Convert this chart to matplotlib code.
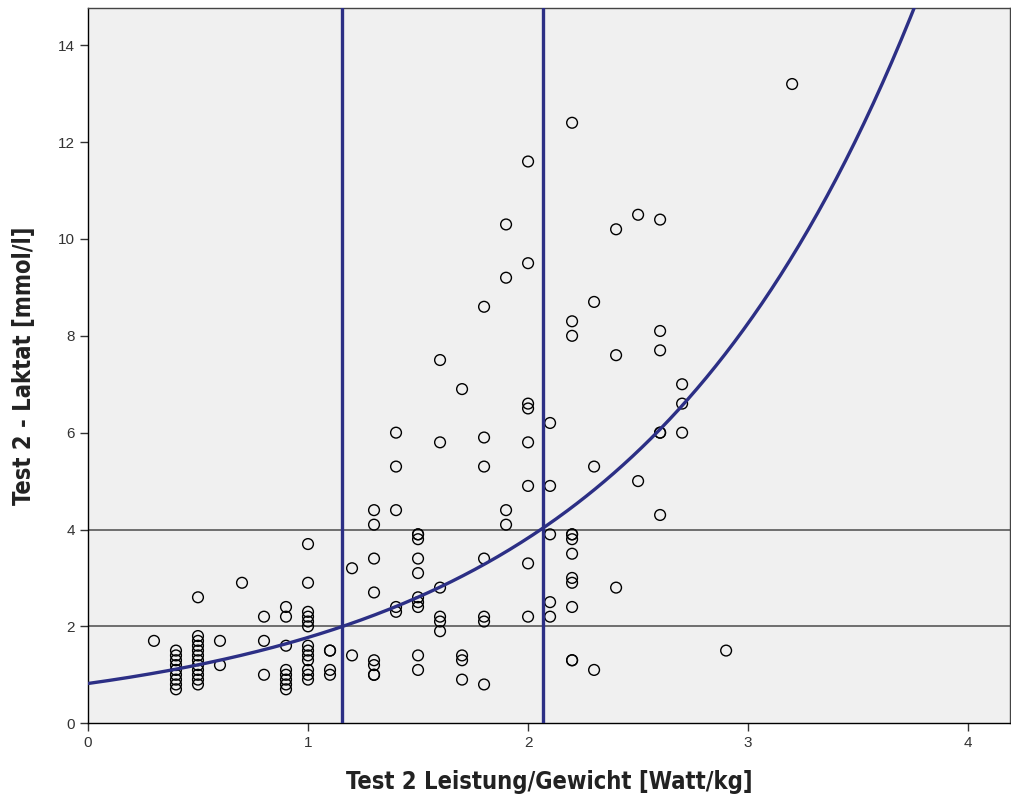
import matplotlib
matplotlib.use("Agg")
import matplotlib.pyplot as plt
import numpy as np

x_vals = ([0.3]
          + [0.4] * 9
          + [0.5] * 12
          + [0.6] * 2
          + [0.7]
          + [0.8] * 3
          + [0.9] * 8
          + [1.0] * 13
          + [1.1] * 4
          + [1.2] * 2
          + [1.3] * 8
          + [1.4] * 5
          + [1.5] * 10
          + [1.6] * 6
          + [1.7] * 4
          + [1.8] * 7
          + [1.9] * 4
          + [2.0] * 8
          + [2.1] * 5
          + [2.2] * 12
          + [2.3] * 3
          + [2.4] * 3
          + [2.5] * 2
          + [2.6] * 6
          + [2.7] * 3
          + [2.9]
          + [3.2])
y_vals = ([1.7]
          + [1.5, 1.4, 1.3, 1.2, 1.1, 1.0, 0.9, 0.8, 0.7]
          + [2.6, 1.8, 1.7, 1.6, 1.5, 1.4, 1.3, 1.2, 1.1, 1.0, 0.9, 0.8]
          + [1.7, 1.2]
          + [2.9]
          + [2.2, 1.7, 1.0]
          + [2.4, 2.2, 1.6, 1.1, 1.0, 0.9, 0.8, 0.7]
          + [3.7, 2.9, 2.3, 2.2, 2.1, 2.0, 1.6, 1.5, 1.4, 1.3, 1.1, 1.0, 0.9]
          + [1.5, 1.5, 1.1, 1.0]
          + [3.2, 1.4]
          + [4.4, 4.1, 3.4, 2.7, 1.3, 1.2, 1.0, 1.0]
          + [6.0, 5.3, 4.4, 2.4, 2.3]
          + [3.9, 3.9, 3.8, 3.4, 3.1, 2.6, 2.5, 2.4, 1.4, 1.1]
          + [7.5, 5.8, 2.8, 2.2, 2.1, 1.9]
          + [6.9, 1.4, 1.3, 0.9]
          + [8.6, 5.9, 5.3, 3.4, 2.2, 2.1, 0.8]
          + [10.3, 9.2, 4.4, 4.1]
          + [11.6, 9.5, 6.6, 6.5, 5.8, 4.9, 3.3, 2.2]
          + [6.2, 4.9, 3.9, 2.5, 2.2]
          + [12.4, 8.3, 8.0, 3.9, 3.8, 3.5, 3.0, 2.9, 2.4, 1.3, 1.3, 3.9]
          + [8.7, 5.3, 1.1]
          + [10.2, 7.6, 2.8]
          + [10.5, 5.0]
          + [10.4, 8.1, 7.7, 6.0, 4.3, 6.0]
          + [7.0, 6.6, 6.0]
          + [1.5]
          + [13.2])

# exponentielle Anpassung y = a * exp(b * x)
fit_a = 0.82
fit_b = 0.77
# Schwellen (Laktat 2 und 4 mmol/l) und zugehoerige Leistung
lactate_thresholds = [2, 4]
power_thresholds = [1.155, 2.066]

navy = "#2c2f85"

fig = plt.figure(figsize=(10.11, 8), dpi=100)
ax = fig.add_axes([0.087, 0.096, 0.912, 0.894])
ax.set_facecolor("#f0f0f0")

for t in lactate_thresholds:
    ax.axhline(t, color="#6e6e6e", lw=1.4, zorder=1)

ax.scatter(x_vals, y_vals, s=60, facecolors="none", edgecolors="black",
           linewidths=1.0, zorder=3)

xs = np.linspace(0, 4.2, 400)
ax.plot(xs, fit_a * np.exp(fit_b * xs), color=navy, lw=2.4, zorder=4)

for p in power_thresholds:
    ax.axvline(p, color=navy, lw=2.4, zorder=4)

ax.set_xlim(0, 4.19)
ax.set_ylim(0, 14.77)
ax.set_xticks([0, 1, 2, 3, 4])
ax.set_yticks([0, 2, 4, 6, 8, 10, 12, 14])

for s in ax.spines.values():
    s.set_color("#444444")
    s.set_linewidth(1.0)
ax.spines["left"].set_color("black")
ax.spines["bottom"].set_color("black")

ax.tick_params(direction="out", length=6, width=1, color="#333333",
               labelsize=11, labelcolor="#333333")
for lab in ax.get_xticklabels() + ax.get_yticklabels():
    lab.set_family("Liberation Sans")

label_font = dict(family="DejaVu Sans", fontstretch="condensed",
                  fontsize=17, fontweight="bold", color="#222222")
ax.set_xlabel("Test 2 Leistung/Gewicht [Watt/kg]", labelpad=14, **label_font)
ax.set_ylabel("Test 2 - Laktat [mmol/l]", labelpad=16, **label_font)

fig.savefig("out.png", dpi=100, facecolor="white")
